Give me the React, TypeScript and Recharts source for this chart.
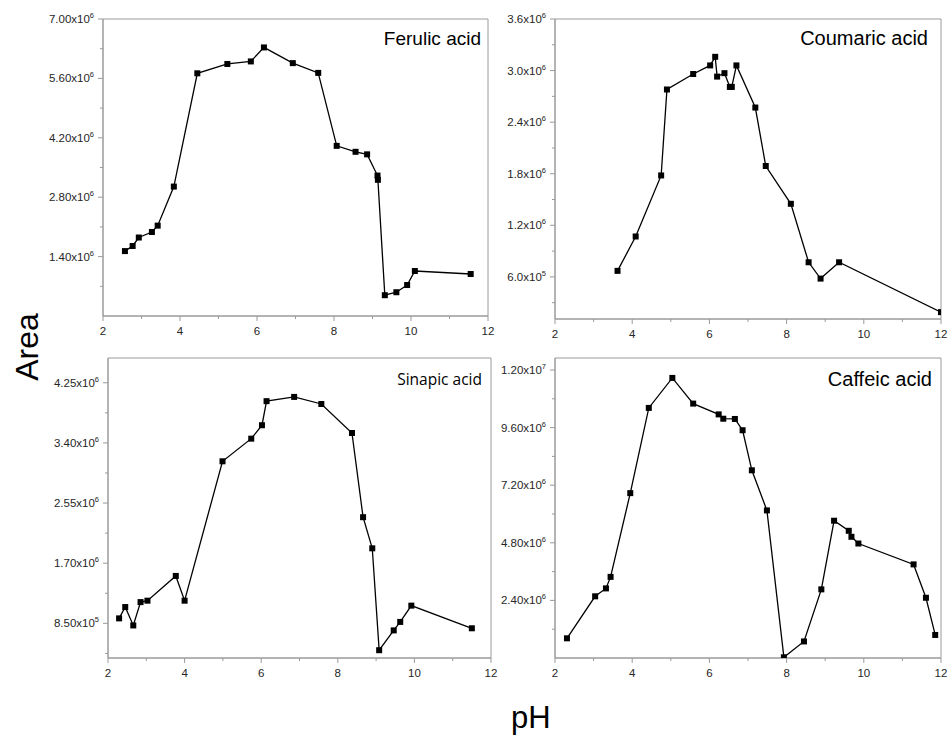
import React from 'react';
import { LineChart, Line, XAxis, YAxis, ReferenceArea } from 'recharts';

// pH axis (shared by the four panels)
const xTicks = [2, 3, 4, 5, 6, 7, 8, 9, 10, 11, 12];
const xMajor = [2, 4, 6, 8, 10, 12];

// Ferulic acid
const ferulicPH = [2.57, 2.77, 2.93, 3.27, 3.42, 3.84, 4.45, 5.23, 5.84, 6.18, 6.93, 7.59, 8.07, 8.56, 8.86, 9.13, 9.14, 9.32, 9.62, 9.9, 10.1, 11.55];
const ferulicArea = [1530000, 1650000, 1850000, 1980000, 2130000, 3050000, 5720000, 5940000, 6000000, 6330000, 5960000, 5730000, 4010000, 3870000, 3810000, 3310000, 3210000, 490000, 560000, 730000, 1060000, 990000];
const ferulicMajor = [1400000, 2800000, 4200000, 5600000, 7000000];
const ferulicMinor = [700000, 2100000, 3500000, 4900000, 6300000];

// Coumaric acid
const coumaricPH = [3.62, 4.09, 4.75, 4.9, 5.58, 6.02, 6.15, 6.2, 6.39, 6.53, 6.58, 6.7, 7.19, 7.46, 8.11, 8.57, 8.88, 9.36, 12.0];
const coumaricArea = [670000, 1070000, 1780000, 2780000, 2960000, 3060000, 3160000, 2930000, 2970000, 2810000, 2810000, 3060000, 2570000, 1890000, 1450000, 770000, 580000, 770000, 190000];
const coumaricMajor = [600000, 1200000, 1800000, 2400000, 3000000, 3600000];
const coumaricMinor = [300000, 900000, 1500000, 2100000, 2700000, 3300000];

// Sinapic acid
const sinapicPH = [2.29, 2.45, 2.66, 2.85, 3.03, 3.77, 4.0, 4.99, 5.74, 6.02, 6.14, 6.86, 7.57, 8.37, 8.66, 8.9, 9.08, 9.46, 9.63, 9.92, 11.5];
const sinapicArea = [920000, 1080000, 820000, 1150000, 1170000, 1520000, 1170000, 3140000, 3460000, 3650000, 3990000, 4050000, 3950000, 3540000, 2350000, 1910000, 470000, 750000, 870000, 1100000, 780000];
const sinapicMajor = [850000, 1700000, 2550000, 3400000, 4250000];
const sinapicMinor = [425000, 1275000, 2125000, 2975000, 3825000];

// Caffeic acid
const caffeicPH = [2.31, 3.04, 3.32, 3.44, 3.95, 4.43, 5.04, 5.58, 6.24, 6.36, 6.66, 6.86, 7.1, 7.49, 7.93, 8.45, 8.9, 9.23, 9.61, 9.68, 9.86, 11.29, 11.61, 11.85];
const caffeicArea = [820000, 2570000, 2900000, 3380000, 6870000, 10420000, 11670000, 10600000, 10150000, 9970000, 9960000, 9490000, 7820000, 6150000, 30000, 690000, 2860000, 5720000, 5300000, 5050000, 4770000, 3900000, 2510000, 960000];
const caffeicMajor = [2400000, 4800000, 7200000, 9600000, 12000000];
const caffeicMinor = [1200000, 3600000, 6000000, 8400000, 10800000];

const AXIS = '#9a9a9a';
const TEXT = '#262626';
const FONT = '"Liberation Sans", Arial, sans-serif';

const zip = (xs: number[], ys: number[]) => xs.map((ph, i) => ({ ph, area: ys[i] }));

function sci(v: number, digits: number) {
  let exp = Math.floor(Math.log10(v) + 1e-9);
  const mant = (v / Math.pow(10, exp)).toFixed(digits);
  return { mant, exp };
}

function makeYTick(major: number[], digits: number) {
  return (props: any) => {
    const { x, y, payload } = props;
    const v = payload.value;
    const isMajor = major.some((m) => Math.abs(m - v) < 1);
    const { mant, exp } = sci(v, digits);
    return (
      <g>
        <line x1={x - (isMajor ? 5 : 3)} y1={y} x2={x} y2={y} stroke={AXIS} />
        {isMajor && (
          <text x={x - 9} y={y + 4} textAnchor="end" fontSize={11.5} fill={TEXT} fontFamily={FONT}>
            {mant}x10
            <tspan dy={-5} fontSize={7.5}>{exp}</tspan>
          </text>
        )}
      </g>
    );
  };
}

const XTick = (props: any) => {
  const { x, y, payload } = props;
  const isMajor = xMajor.includes(payload.value);
  return (
    <g>
      <line x1={x} y1={y} x2={x} y2={y + (isMajor ? 5 : 3)} stroke={AXIS} />
      {isMajor && (
        <text x={x} y={y + 18.5} textAnchor="middle" fontSize={11.5} fill={TEXT} fontFamily={FONT}>
          {payload.value}
        </text>
      )}
    </g>
  );
};

const square = (props: any) => {
  const { cx, cy, index } = props;
  return <rect key={`sq-${index}`} x={cx - 3} y={cy - 3} width={6} height={6} fill="#000" />;
};

interface PanelProps {
  ph: number[];
  area: number[];
  major: number[];
  minor: number[];
  digits: number;
  domain: [number, number];
  box: [number, number, number, number]; // left, top, right, bottom of the plot frame
}

function Panel({ ph, area, major, minor, digits, domain, box }: PanelProps) {
  const [L, T, R, B] = box;
  const data = zip(ph, area);
  const yTicks = [...minor, ...major].sort((a, b) => a - b);
  return (
    <div style={{ position: 'absolute', left: L - 70, top: T - 10 }}>
      <LineChart width={R - L + 80} height={B - T + 40} data={data} margin={{ top: 10, right: 10, bottom: 0, left: 0 }}>
        <XAxis
          dataKey="ph"
          type="number"
          domain={[2, 12]}
          ticks={xTicks}
          interval={0}
          height={30}
          tickSize={0}
          tickMargin={0}
          tickLine={false}
          axisLine={{ stroke: AXIS }}
          tick={<XTick />}
          allowDataOverflow
        />
        <YAxis
          type="number"
          domain={domain}
          ticks={yTicks}
          interval={0}
          width={70}
          tickSize={0}
          tickMargin={0}
          tickLine={false}
          axisLine={{ stroke: AXIS }}
          tick={makeYTick(major, digits)}
          allowDataOverflow
        />
        <ReferenceArea x1={2} x2={12} y1={domain[0]} y2={domain[1]} fill="none" stroke={AXIS} strokeWidth={1} />
        <Line
          type="linear"
          dataKey="area"
          stroke="#000"
          strokeWidth={1.3}
          dot={square}
          activeDot={false}
          isAnimationActive={false}
        />
      </LineChart>
    </div>
  );
}

export default function App() {
  return (
    <div style={{ position: 'absolute', left: 0, top: 0, width: 950, height: 743, background: '#fff', fontFamily: FONT }}>
      <Panel ph={ferulicPH} area={ferulicArea} major={ferulicMajor} minor={ferulicMinor} digits={2} domain={[0, 7000000]} box={[103, 19, 488, 316]} />
      <Panel ph={coumaricPH} area={coumaricArea} major={coumaricMajor} minor={coumaricMinor} digits={1} domain={[110000, 3600000]} box={[555, 19, 941, 319]} />
      <Panel ph={sinapicPH} area={sinapicArea} major={sinapicMajor} minor={sinapicMinor} digits={2} domain={[360000, 4600000]} box={[108, 358, 491, 658]} />
      <Panel ph={caffeicPH} area={caffeicArea} major={caffeicMajor} minor={caffeicMinor} digits={2} domain={[0, 12500000]} box={[555, 358, 941, 658]} />
      <svg width={950} height={743} style={{ position: 'absolute', left: 0, top: 0, pointerEvents: 'none' }}>
        <text x={481} y={45} textAnchor="end" fontSize={19} fill="#000" fontFamily={FONT}>Ferulic acid</text>
        <text x={928} y={45} textAnchor="end" fontSize={20} fill="#000" fontFamily={FONT}>Coumaric acid</text>
        <text x={482} y={385} textAnchor="end" fontSize={15.5} fill="#000" fontFamily={'"Open Sans", "Noto Sans", sans-serif'}>Sinapic acid</text>
        <text x={932} y={386} textAnchor="end" fontSize={20} fill="#000" fontFamily={FONT}>Caffeic acid</text>
        <text transform="translate(38, 347) rotate(-90)" textAnchor="middle" fontSize={32} fill="#000" fontFamily={FONT}>Area</text>
        <text x={511} y={728} fontSize={31} fill="#000" fontFamily={FONT}>pH</text>
      </svg>
    </div>
  );
}
